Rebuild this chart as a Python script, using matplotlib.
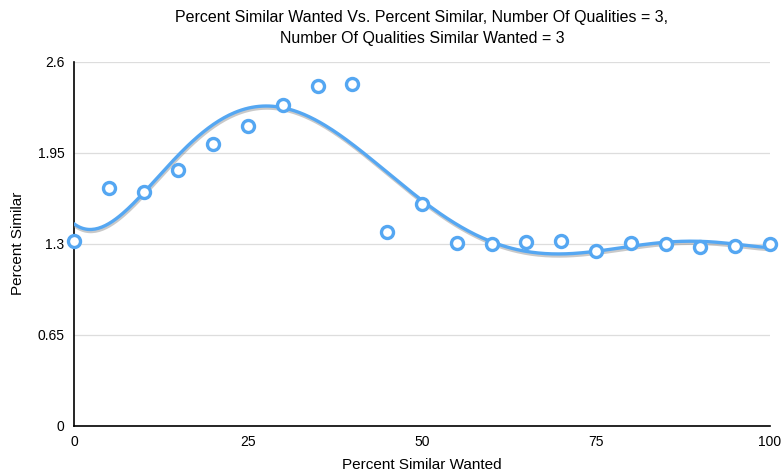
import numpy as np
import matplotlib
matplotlib.use("Agg")
import matplotlib.pyplot as plt
import matplotlib.patheffects as pe

plt.rcParams['font.family'] = ['Liberation Sans', 'DejaVu Sans']

# Percent similar wanted (x) and resulting percent similar (y)
wanted = [0, 5, 10, 15, 20, 25, 30, 35, 40, 45, 50,
          55, 60, 65, 70, 75, 80, 85, 90, 95, 100]
similar = [1.32, 1.70, 1.67, 1.825, 2.015, 2.14, 2.29, 2.425, 2.44, 1.385, 1.58,
           1.305, 1.295, 1.31, 1.32, 1.245, 1.305, 1.295, 1.275, 1.28, 1.295]

x_ticks = [0, 25, 50, 75, 100]
y_ticks = [0, 0.65, 1.3, 1.95, 2.6]
y_tick_labels = ["0", "0.65", "1.3", "1.95", "2.6"]

blue = "#55a7f2"

W, H = 783, 474
fig = plt.figure(figsize=(W / 100, H / 100), dpi=100)
ax = fig.add_axes([74 / W, 1 - 425.5 / H, 696 / W, (425.5 - 61.7) / H])

# polynomial trend line
coef = np.polyfit(wanted, similar, 6)
xs = np.linspace(0, 100, 400)
ax.plot(xs, np.polyval(coef, xs), color=blue, lw=2.4, zorder=3,
        solid_capstyle="round",
        path_effects=[pe.SimpleLineShadow(offset=(0.5, -1.5), shadow_color="#888888", alpha=0.45),
                      pe.Normal()])

ax.scatter(wanted, similar, s=75, facecolors="white", edgecolors=blue,
           linewidths=2.4, zorder=4, clip_on=False)

ax.set_xlim(0, 100)
ax.set_ylim(0, 2.6)
ax.set_xticks(x_ticks)
ax.set_yticks(y_ticks)
ax.set_yticklabels(y_tick_labels)
ax.grid(axis="y", color="#dddddd", lw=0.9)
ax.set_axisbelow(True)
for s in ("top", "right"):
    ax.spines[s].set_visible(False)
for s in ("left", "bottom"):
    ax.spines[s].set_color("black")
    ax.spines[s].set_linewidth(1.2)
ax.tick_params(length=0, labelsize=10, pad=7)

ax.set_xlabel("Percent Similar Wanted", fontsize=11)
ax.set_ylabel("Percent Similar", fontsize=11)
ax.xaxis.set_label_coords(0.5, -(465 - 425.5) / (425.5 - 61.7), transform=ax.transAxes)
ax.yaxis.set_label_coords(-(74 - 18) / 696, 0.5, transform=ax.transAxes)
ax.xaxis.label.set_va("center")
ax.yaxis.label.set_va("center")

fig.text(422 / W, 1 - 28 / H,
         "Percent Similar Wanted Vs. Percent Similar, Number Of Qualities = 3,\n"
         "Number Of Qualities Similar Wanted = 3",
         ha="center", va="center", fontsize=11.5, linespacing=1.45)

fig.savefig("out.png", dpi=100)
